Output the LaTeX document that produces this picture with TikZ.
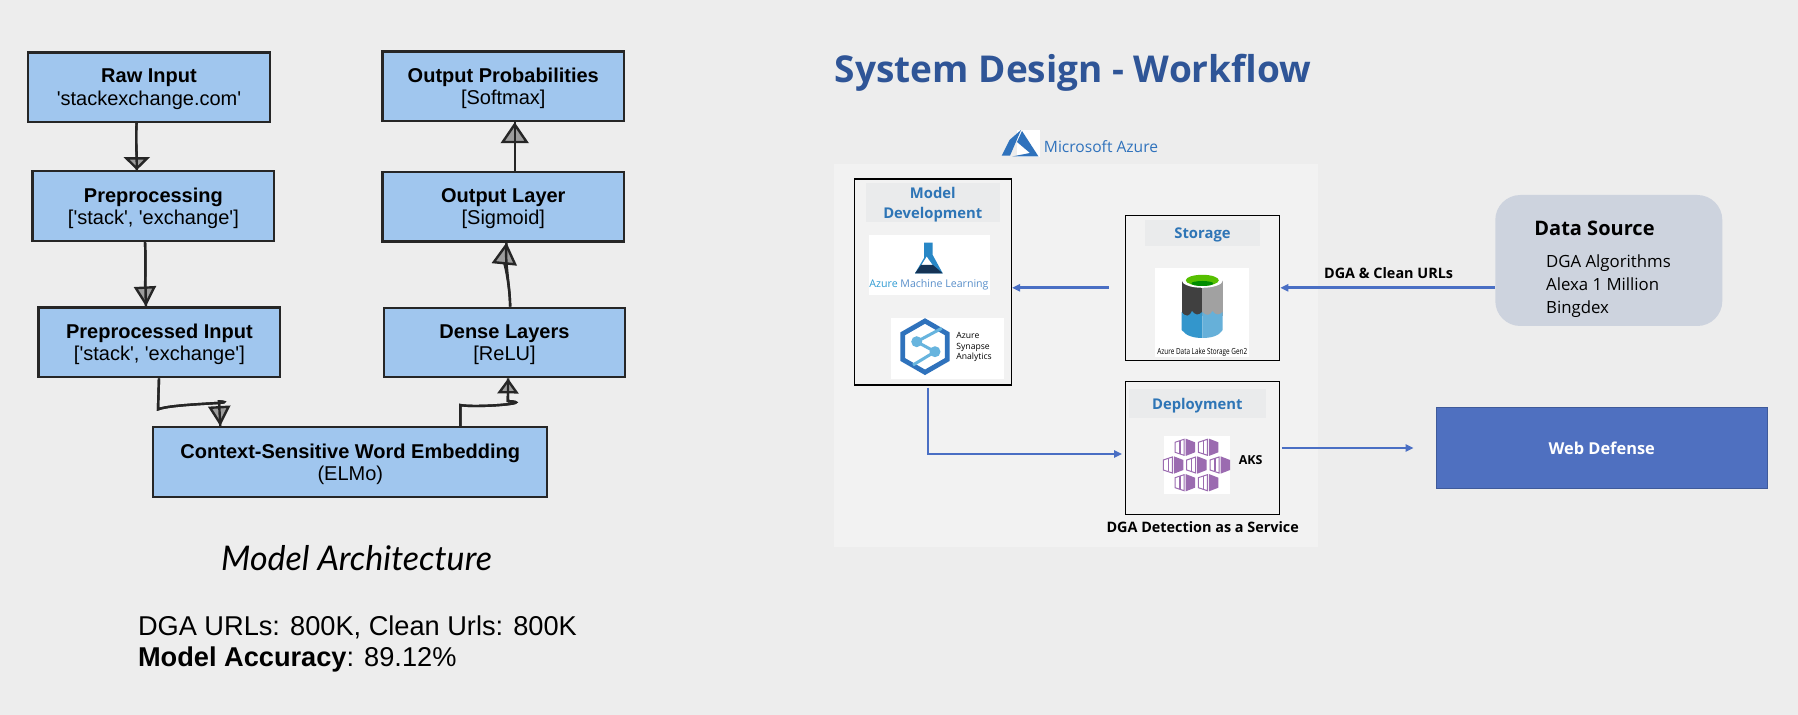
\documentclass[tikz,border=0pt]{standalone}
\usepackage{fontspec}
\usetikzlibrary{positioning, arrows.meta, calc}
\newfontfamily\archfont{Liberation Sans}
\newfontfamily\flowfont{Open Sans}
\newfontfamily\handfont{Lato}
\definecolor{pagecolor}{RGB}{237, 237, 237}
\definecolor{blockcolor}{RGB}{160, 198, 238}
\definecolor{inkcolor}{RGB}{38, 38, 38}
\definecolor{panelcolor}{RGB}{242, 242, 242}
\definecolor{headcolor}{RGB}{234, 235, 236}
\definecolor{headtext}{RGB}{46, 117, 182}
\definecolor{titlecolor}{RGB}{47, 85, 151}
\definecolor{flowcolor}{RGB}{74, 111, 196}
\definecolor{sourcecolor}{RGB}{205, 211, 222}
\definecolor{webcolor}{RGB}{79, 112, 192}
\definecolor{azurecolor}{RGB}{47, 114, 188}
\definecolor{akscolor}{RGB}{155, 107, 176}

\begin{document}
\begin{tikzpicture}[
    x=0.5pt, y=-0.5pt,
    inkhead/.tip={Triangle[length=10pt, width=11pt, fill=inkcolor!40!pagecolor]},
    block/.style={rectangle, draw=inkcolor, fill=blockcolor, line width=1.15pt, minimum width=120.8pt, minimum height=34.8pt, align=center, inner sep=0pt, text depth=-0.5pt, font=\archfont\fontsize{10}{11.2}\selectfont},
    sketch/.style={draw=inkcolor, line width=1.2pt, -{inkhead}, postaction={draw, arrows=-}},
    panel/.style={rectangle, draw=black, line width=0.6pt, inner sep=0pt},
    head/.style={rectangle, fill=headcolor, inner sep=0pt, align=center, text=headtext, text depth=-2pt, font=\flowfont\bfseries\fontsize{7.4}{9.8}\selectfont},
    card/.style={rectangle, fill=white, inner sep=0pt},
    flow/.style={draw=flowcolor, line width=1.3pt, -{Triangle[length=4pt, width=3.6pt]}},
    flowlabel/.style={font=\flowfont\bfseries\fontsize{7.2}{8}\selectfont, inner sep=0pt},
    cube/.pic={
        \fill[akscolor] (0.5,-8.7) -- (10,-5) -- (10,5) -- (0.5,8.7) -- cycle;
        \draw[akscolor, line width=0.5pt] (-1,-8) -- (-10,-5) -- (-10,5) -- (-1,8) -- cycle;
        \draw[akscolor, line width=0.6pt] (-5,-6.5) -- (-5,6.5);
    },
]
\useasboundingbox (0,0) rectangle (1798,715);
\fill[pagecolor] (0,0) rectangle (1798,715);

% ============ Model Architecture ============
\node[block] (raw_input) at (149,87.2)
      {\textbf{Raw Input}\\'stackexchange.com'};
\node[block, below=23.5pt of raw_input, xshift=2.2pt] (preprocessing)
      {\textbf{Preprocessing}\\{}['stack', 'exchange']};
\node[block, below=32.2pt of preprocessing, xshift=3pt] (preprocessed)
      {\textbf{Preprocessed Input}\\{}['stack', 'exchange']};
\node[block, minimum width=197pt] (embedding) at (350.3,462)
      {\textbf{Context-Sensitive Word Embedding}\\(ELMo)};
\node[block] (dense) at (504.5,342.5)
      {\textbf{Dense Layers}\\{}[ReLU]};
\node[block, above=32pt of dense, xshift=-0.6pt] (output_layer)
      {\textbf{Output Layer}\\{}[Sigmoid]};
\node[block, above=24.2pt of output_layer] (output_prob)
      {\textbf{Output Probabilities}\\{}[Softmax]};

\node[font=\handfont\itshape\fontsize{17}{20}\selectfont, inner sep=0pt] (arch_title) at (356.5,558) {Model Architecture};
\node[anchor=north west, align=left, inner sep=0pt, font=\archfont\fontsize{13.6}{15.5}\selectfont] (arch_stats) at (137.6,615)
      {DGA URLs: 800K, Clean Urls: 800K\\\textbf{Model Accuracy}: 89.12\%};

% hand drawn arrows
\draw[sketch, -{inkhead[length=6.5pt, width=13pt]}] ([xshift=-6.2pt]raw_input.south) .. controls +(-1,15) and +(0,-15) .. ([xshift=-8.3pt]preprocessing.north);
\draw[sketch] ([xshift=-4.2pt]preprocessing.south) .. controls +(1,20) and +(-1,-20) .. ([xshift=-6.7pt]preprocessed.north);
\draw[sketch] ([xshift=-0.2pt]preprocessed.south) -- ++(-1,31) .. controls +(15,-6) and +(25,2) .. ++(61,-8) -- ([xshift=-65pt]embedding.north);
\draw[sketch, -{inkhead[length=7.5pt, width=10.5pt]}] ([xshift=55pt]embedding.north) -- ++(0,-21) .. controls +(15,3) and +(30,2) .. ++(47.6,-4) -- ([xshift=1.8pt]dense.south);
\draw[sketch, -{inkhead[length=11pt, width=12.5pt]}] ([xshift=2.8pt]dense.north) .. controls +(0,-20) and +(-2,20) .. ([xshift=1.6pt]output_layer.south);
\draw[sketch, -{inkhead[length=10.5pt, width=14pt]}] ([xshift=5.7pt]output_layer.north) -- ([xshift=5.7pt]output_prob.south);

% ============ Workflow ============
\node[font=\flowfont\bfseries\fontsize{18.5}{21}\selectfont, text=titlecolor, inner sep=0pt] (flow_title) at (1073,73) {System Design - Workflow};

\fill[panelcolor] (834,164) rectangle (1318,547);

% azure logo
\fill[white] (1017,130) rectangle (1040,157);
\fill[azurecolor] (1021,130) -- (1009.5,140) -- (1001.7,155.7) -- (1010,155.7) -- cycle;
\fill[azurecolor] (1022,131) -- (1038.5,156.5) -- (1012,156.5) -- (1030,153) -- (1017,142) -- cycle;
\node[font=\flowfont\fontsize{7.8}{9}\selectfont, text=azurecolor, inner sep=0pt] (azure_label) at (1101,147) {Microsoft Azure};

% model development
\node[panel, line width=0.75pt, minimum width=78.5pt, minimum height=103pt] (model) at (932.8,282) {};
\node[head, minimum width=67pt, minimum height=19.3pt, below=2.4pt of model.north] (model_head) {Model\\Development};
\node[card, minimum width=60.5pt, minimum height=30pt] (aml) at (929.5,265) {};
\fill[azurecolor!85!cyan] (924,242.7) -- (932.7,242.7) -- (932.7,255) -- (942.7,273.3) -- (915,273.3) -- (924,258) -- cycle;
\fill[white] (926.7,256.7) -- (932.5,265) -- (921.5,265) -- cycle;
\fill[azurecolor!45!black] (921,265) -- (933,265) -- (942.7,273.3) -- (915,273.3) -- cycle;
\node[font=\flowfont\fontsize{5.3}{6}\selectfont, text=azurecolor!80!white, inner sep=0pt] (aml_label) at (929,285) {\textcolor{cyan!60!azurecolor}{Azure} Machine Learning};

\node[card, minimum width=56.5pt, minimum height=30.6pt] (synapse) at (947.5,348.6) {};
\draw[azurecolor, line width=2.4pt, line join=miter] (925,321) -- (947.3,333.8) -- (947.3,359.5) -- (925,372.3) -- (902.7,359.5) -- (902.7,333.8) -- cycle;
\draw[cyan!60!azurecolor!70!white, line width=1.5pt] (941.7,328.3) -- (916.7,341.7) -- (935,351.7) -- (913,365);
\fill[cyan!60!azurecolor!70!white] (916.7,341.7) circle [radius=5.5] (935,351.7) circle [radius=5.5];
\node[anchor=west, align=left, inner sep=0pt, font=\flowfont\fontsize{4.3}{5.25}\selectfont] (synapse_label) at (956,347) {Azure\\Synapse\\Analytics};

% storage
\node[panel, minimum width=77.2pt, minimum height=72.5pt] (store) at (1202.5,287.8) {};
\node[head, minimum width=57.3pt, minimum height=12.8pt, below=2.5pt of store.north] (store_head) {Storage};
\node[card, minimum width=47pt, minimum height=44.6pt] (adls) at (1202,312.6) {};
\fill[black!75] (1181.7,280) rectangle (1202.3,316);
\fill[black!37] (1202.3,280) rectangle (1222.7,316);
\fill[white] (1202.3,280.3) ellipse [x radius=20.6, y radius=7.5];
\fill[green!55!yellow!75!black] (1202.3,280.3) ellipse [x radius=16.5, y radius=5.5];
\fill[green!55!black] (1202.3,283.5) ellipse [x radius=11, y radius=2.5];
\fill[blue!35!cyan!60!gray] (1181.7,312) .. controls (1186,318) and (1190,316) .. (1192,311) .. controls (1195,315) and (1198,316) .. (1202.3,312) -- (1202.3,338) .. controls (1194,338) and (1186,336) .. (1181.7,330) -- cycle;
\fill[blue!35!cyan!60!gray!75!white] (1202.3,312) .. controls (1206,316) and (1210,316) .. (1212.5,311) .. controls (1215,315) and (1219,316) .. (1222.7,312) -- (1222.7,330) .. controls (1219,336) and (1211,338) .. (1202.3,338) -- cycle;
\node[font=\flowfont\fontsize{4.2}{5}\selectfont, inner sep=0pt] (adls_label) at (1202.3,352) {\scalebox{.76}[1]{Azure Data Lake Storage Gen2}};

% deployment
\node[panel, minimum width=77.2pt, minimum height=66.7pt] (deploy) at (1202.5,448) {};
\node[head, minimum width=68.2pt, minimum height=14.8pt, below=3.8pt of deploy.north, xshift=-2.6pt] (deploy_head) {Deployment};
\node[card, minimum width=33pt, minimum height=28.8pt] (aks) at (1197,464.8) {};
\pic at (1185,447.3) {cube};
\pic at (1208.3,447.3) {cube};
\pic at (1173.3,465) {cube};
\pic at (1196.7,465) {cube};
\pic at (1220,465) {cube};
\pic at (1185,482.7) {cube};
\pic at (1208.3,482.7) {cube};
\node[font=\flowfont\bfseries\fontsize{6.2}{7}\selectfont, inner sep=0pt] (aks_label) at (1250.7,460) {AKS};
\node[flowlabel, below=3pt of deploy.south, xshift=0.1pt] (deploy_label) {DGA Detection as a Service};

% data source
\node[rectangle, fill=sourcecolor, rounded corners=12.5pt, minimum width=113.5pt, minimum height=65.5pt] (source) at (1608.8,260.5) {};
\node[anchor=west, inner sep=0pt, font=\flowfont\bfseries\fontsize{10}{11}\selectfont] (source_title) at (1534,228) {Data Source};
\node[anchor=west, align=left, inner sep=0pt, font=\flowfont\fontsize{8.4}{11.5}\selectfont] (source_list) at (1545.7,286) {DGA Algorithms\\Alexa 1 Million\\Bingdex};

% web defense
\node[rectangle, draw=webcolor!80!black, fill=webcolor, line width=0.5pt, minimum width=165.6pt, minimum height=40.3pt, text=white, font=\flowfont\bfseries\fontsize{8.2}{10}\selectfont] (web) at (1601.7,448) {Web Defense};

% ============ Arrows ============
\draw[flow] ([xshift=-8pt]store.west) -- (model.east |- store.west);
\draw[flow] (source.west |- store.east) -- node[flowlabel, above=4pt, xshift=0.5pt] (url_label) {DGA \& Clean URLs} (store.east);
\draw[flow] ([xshift=-2.4pt,yshift=-1pt]model.south) |- ([xshift=-1.3pt,yshift=-3pt]deploy.west);
\draw[flow, line width=1.1pt] ([xshift=0.8pt]deploy.east) -- ([xshift=-11pt]web.west |- deploy.east);

\end{tikzpicture}
\end{document}
